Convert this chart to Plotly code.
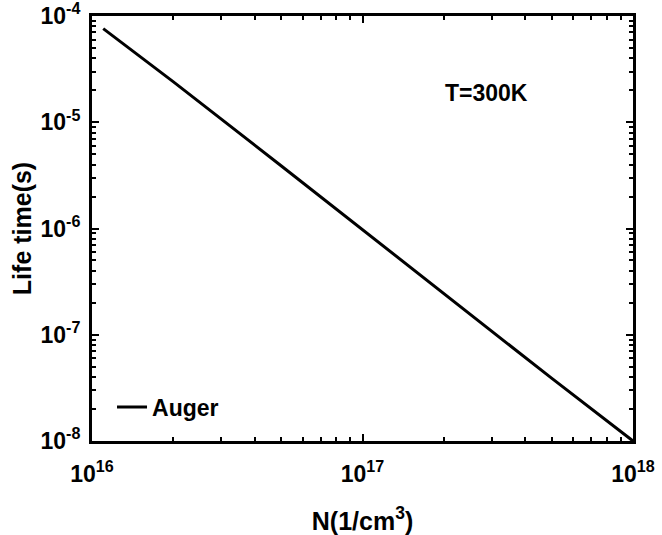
import plotly.graph_objects as go

# Data (Auger lifetime vs carrier density, T=300K)
N_values = [1.1e16, 2e16, 5e16, 1e17, 2e17, 5e17, 1e18]
tau_auger = [7.6e-5, 2.4e-5, 3.9e-6, 9.7e-7, 2.45e-7, 3.9e-8, 1.0e-8]
series_name = "Auger"
x_title = "N(1/cm<sup>3</sup>)"
y_title = "Life time(s)"
note_text = "T=300K"
x_exponents = [16, 17, 18]
y_exponents = [-8, -7, -6, -5, -4]

FONT = "Liberation Sans"


def power_labels(exps):
    return [10.0 ** e for e in exps], ["10<sup>{}</sup>".format(e) for e in exps]


def minor_vals(exps):
    out = []
    for e in exps[:-1]:
        out += [m * 10.0 ** e for m in range(2, 10)]
    return out


xt_vals, xt_text = power_labels(x_exponents)
yt_vals, yt_text = power_labels(y_exponents)

fig = go.Figure()
fig.add_trace(go.Scatter(
    x=N_values, y=tau_auger, mode="lines", name=series_name,
    line=dict(color="black", width=3),
))

axis_common = dict(
    type="log", automargin=False,
    showline=True, linecolor="black", linewidth=3, mirror="ticks",
    ticks="inside", ticklen=7, tickwidth=2, tickcolor="black",
    showgrid=False, zeroline=False, ticklabeloverflow="allow",
    tickfont=dict(family=FONT, size=23, color="black", weight="bold"),
)

fig.update_layout(
    width=662, height=535,
    margin=dict(l=92, r=29, t=16, b=94),
    paper_bgcolor="white", plot_bgcolor="white",
    showlegend=True,
    legend=dict(x=0.037, y=0.08, xanchor="left", yanchor="middle",
                bgcolor="rgba(0,0,0,0)", borderwidth=0,
                font=dict(family=FONT, size=23, color="black", weight="bold")),
    xaxis=dict(axis_common, range=[15.9999, 18.0001],
               tickvals=xt_vals, ticktext=xt_text, ticklabelstandoff=10,
               minor=dict(ticks="inside", ticklen=4, tickwidth=2, tickcolor="black",
                          tickvals=minor_vals(x_exponents), showgrid=False),
               title=dict(text=x_title, standoff=27,
                          font=dict(family=FONT, size=25, color="black", weight="bold"))),
    yaxis=dict(axis_common, range=[-8.0001, -3.9999],
               tickvals=yt_vals, ticktext=yt_text, ticklabelstandoff=4,
               minor=dict(ticks="inside", ticklen=4, tickwidth=2, tickcolor="black",
                          tickvals=minor_vals(y_exponents), showgrid=False),
               title=dict(text=y_title, standoff=2,
                          font=dict(family=FONT, size=25, color="black", weight="bold"))),
    annotations=[dict(text=note_text, x=0.73, y=0.819, xref="paper", yref="paper",
                      xanchor="center", yanchor="middle", showarrow=False,
                      font=dict(family=FONT, size=23, color="black", weight="bold"))],
)

fig.write_html("out.html", config={"displayModeBar": False},
               post_script="document.body.style.margin='0';")
